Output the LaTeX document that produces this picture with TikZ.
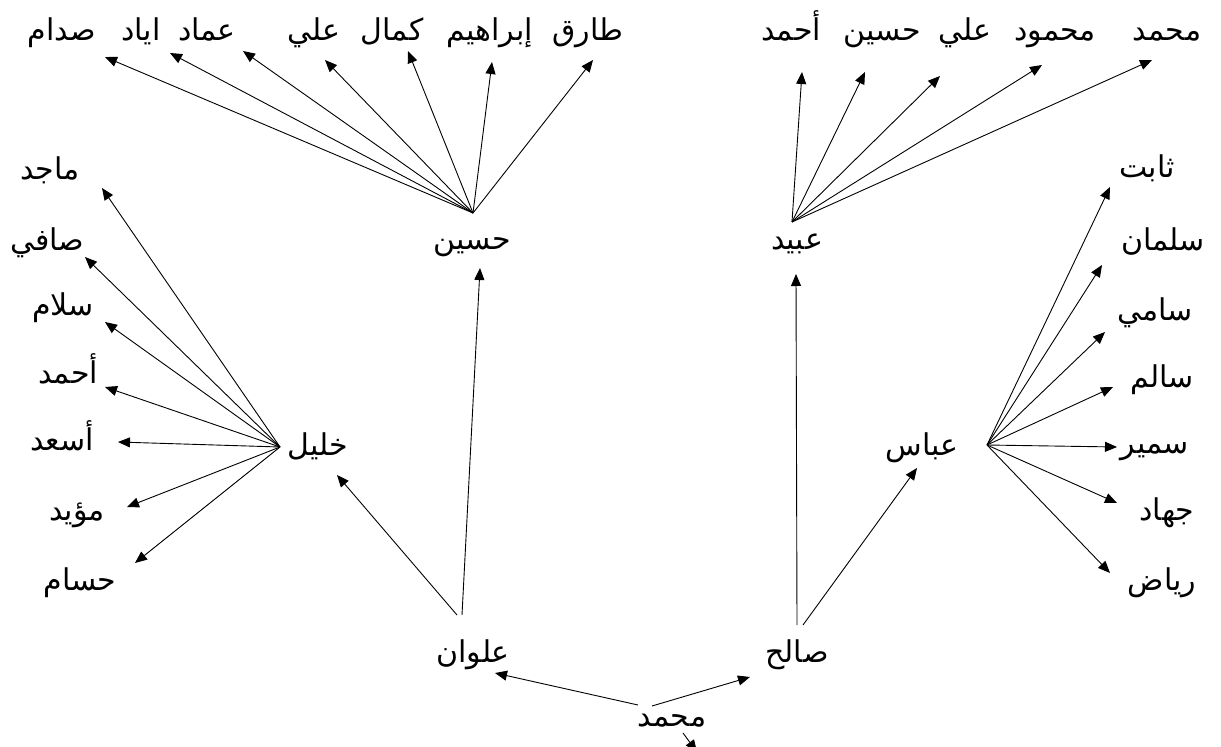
\documentclass[tikz,border=0pt]{standalone}
\usepackage{fontspec}
\newfontfamily\arabicfont[Script=Arabic]{DejaVu Sans}
\TeXXeTstate=1
\usetikzlibrary{arrows.meta}
\tikzset{
  lbl/.style={font=\arabicfont\fontsize{30}{34}\selectfont, inner sep=0pt, anchor=base},
  arr/.style={draw=black, line width=0.9pt, -{Triangle[length=12pt,width=10pt]}},
}
\begin{document}
\begin{tikzpicture}[x=1pt,y=-1pt]
\useasboundingbox[fill=white] (0,0) rectangle (1221,747);

% ---------- main nodes ----------
\node[lbl] (muh)  at (672,726) {\beginR محمد\endR};
\node[lbl] (alwan) at (473,662) {\beginR علوان\endR};
\node[lbl] (saleh) at (797,662) {\beginR صالح\endR};
\node[lbl] (husein) at (472,249) {\beginR حسين\endR};
\node[lbl] (obaid) at (797,249) {\beginR عبيد\endR};
\node[lbl] (khalil) at (318,455) {\beginR خليل\endR};
\node[lbl] (abbas) at (922,455) {\beginR عباس\endR};

% fan origins
\coordinate (muh-l) at (638,705);
\coordinate (muh-r) at (652,706);
\coordinate (alwan-l) at (457,615);
\coordinate (alwan-u) at (462,615);
\coordinate (saleh-u) at (797,625);
\coordinate (saleh-r) at (803,625);
\coordinate (hus-o) at (473,213);
\coordinate (obd-o) at (792,222);
\coordinate (kh-o) at (280,447);
\coordinate (ab-o) at (987,445);

% ---------- root arrows ----------
\coordinate (t-alwan) at (495,673);
\coordinate (t-saleh) at (750,677);
\draw[arr] (muh-l) -- (t-alwan);
\draw[arr] (muh-r) -- (t-saleh);
\coordinate (stray-a) at (683,733);
\coordinate (stray-b) at (697,752);
\draw[arr] (stray-a) -- (stray-b);

\coordinate (t-khalil) at (337,475);
\coordinate (t-husein) at (480,268);
\draw[arr] (alwan-l) -- (t-khalil);
\draw[arr] (alwan-u) -- (t-husein);

\coordinate (t-obaid) at (796,274);
\coordinate (t-abbas) at (917,468);
\draw[arr] (saleh-u) -- (t-obaid);
\draw[arr] (saleh-r) -- (t-abbas);

% ---------- Husein's children ----------
\foreach \nm/\txt/\cx/\tx/\ty in {
  h1/صدام/62/105/57,
  h2/اياد/141/170/53,
  h3/عماد/207/243/51,
  h4/علي/314/325/60,
  h5/كمال/392/408/51,
  h6/إبراهيم/490/492/62,
  h7/طارق/588/593/60}{
  \node[lbl] (\nm) at (\cx,40) {\beginR\txt\endR};
  \coordinate (t-\nm) at (\tx,\ty);
  \draw[arr] (hus-o) -- (t-\nm);
}

% ---------- Obaid's children ----------
\foreach \nm/\txt/\cx/\tx/\ty in {
  o1/أحمد/791/802/72,
  o2/حسين/882/865/72,
  o3/علي/965/940/76,
  o4/محمود/1055/1042/65,
  o5/محمد/1167/1152/60}{
  \node[lbl] (\nm) at (\cx,40) {\beginR\txt\endR};
  \coordinate (t-\nm) at (\tx,\ty);
  \draw[arr] (obd-o) -- (t-\nm);
}

% ---------- Khalil's children ----------
\foreach \nm/\txt/\cx/\cy/\tx/\ty in {
  k1/ماجد/50/179/102/188,
  k2/صافي/47/250/85/257,
  k3/سلام/63/315/105/322,
  k4/أحمد/68/383/105/387,
  k5/أسعد/62/450/118/442,
  k6/مؤيد/77/520/127/507,
  k7/حسام/80/590/135/563}{
  \node[lbl] (\nm) at (\cx,\cy) {\beginR\txt\endR};
  \coordinate (t-\nm) at (\tx,\ty);
  \draw[arr] (kh-o) -- (t-\nm);
}

% ---------- Abbas's children ----------
\foreach \nm/\txt/\cx/\cy/\tx/\ty in {
  a1/ثابت/1147/177/1110/187,
  a2/سلمان/1163/250/1102/265,
  a3/سامي/1155/320/1105/332,
  a4/سالم/1162/387/1113/387,
  a5/سمير/1155/453/1117/447,
  a6/جهاد/1167/520/1117/503,
  a7/رياض/1162/590/1110/573}{
  \node[lbl] (\nm) at (\cx,\cy) {\beginR\txt\endR};
  \coordinate (t-\nm) at (\tx,\ty);
  \draw[arr] (ab-o) -- (t-\nm);
}
\end{tikzpicture}
\end{document}
